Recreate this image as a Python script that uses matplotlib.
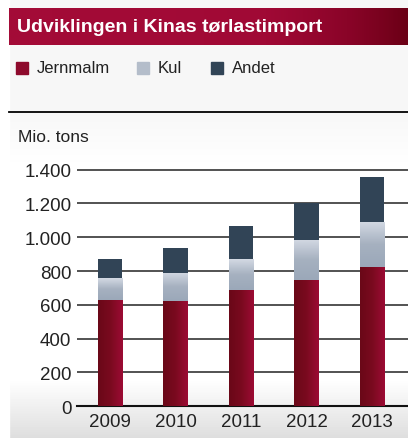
import numpy as np
import matplotlib.pyplot as plt
from matplotlib.colors import LinearSegmentedColormap
from matplotlib.patches import Rectangle

years = ["2009", "2010", "2011", "2012", "2013"]
jernmalm = [629, 623, 688, 747, 824]
kul = [130, 166, 183, 237, 267]
andet = [112, 148, 196, 217, 266]
yticks = [0, 200, 400, 600, 800, 1000, 1200, 1400]
ylabels = ["0", "200", "400", "600", "800", "1.000", "1.200", "1.400"]

W, H = 408, 439
plt.rcParams['font.family'] = ['Liberation Sans', 'DejaVu Sans']
fig = plt.figure(figsize=(W / 100, H / 100), dpi=100)

# panel background (light grey at top, white middle, grey toward bottom)
bg = fig.add_axes([0, 0, 1, 1], zorder=-10)
bg.axis("off")
grad = np.concatenate([np.full(110, 0.965), np.linspace(0.965, 1.0, 60),
                       np.full(210, 1.0), np.linspace(1.0, 0.87, 59)])
bg.imshow(grad[:, None], cmap="gray", vmin=0, vmax=1, aspect="auto",
          extent=[0, 1, 0, 1])
bg.add_patch(Rectangle((0, 0), 9 / W, 1, color="white", transform=bg.transAxes))
bg.set_xlim(0, 1)
bg.set_ylim(0, 1)

# title band
tb = fig.add_axes([9 / W, 1 - 46 / H, 1 - 9 / W, 37 / H])
tb.axis("off")
red_cmap = LinearSegmentedColormap.from_list("band", ["#a30b37", "#a00935", "#8a0428", "#6b0016"])
tb.imshow(np.linspace(0, 1, 256)[None, :] ** 2.5, cmap=red_cmap, aspect="auto",
          extent=[0, 1, 0, 1])
tb.set_xlim(0, 1)
tb.set_ylim(0, 1)
fig.text(17 / W, 1 - 28 / H, "Udviklingen i Kinas tørlastimport", color="white",
         fontsize=14, fontweight="bold", va="center", ha="left")

# legend
leg_items = [("Jernmalm", "#8e0a2c", 16), ("Kul", "#b4bdca", 137), ("Andet", "#314456", 211)]
for name, col, x0 in leg_items:
    fig.patches.append(Rectangle((x0 / W, 1 - 75 / H), 12 / W, 12 / H, color=col,
                                 transform=fig.transFigure, figure=fig))
    fig.text((x0 + 21) / W, 1 - 69 / H, name, fontsize=12, color="#222222",
             va="center", ha="left")

# separator line
fig.add_artist(plt.Line2D([9 / W, 1], [1 - 113 / H, 1 - 113 / H], color="black", lw=1.3))
fig.text(18 / W, 1 - 137 / H, "Mio. tons", fontsize=12.5, color="#222222", va="center")

# chart
ax = fig.add_axes([77 / W, 1 - 407.3 / H, 1 - 77 / W, (407.3 - 167.3) / H])
ax.patch.set_alpha(0)
x = np.arange(len(years))
width = 0.374
jm_cmap = LinearSegmentedColormap.from_list("jm", ["#6a0818", "#7a0a1f", "#9c0b34"])
kul_cmap = LinearSegmentedColormap.from_list("kul", ["#9ba8b9", "#a6b1c0", "#d3d9e3"])

b1 = ax.bar(x, jernmalm, width, color="#8e0a2c", zorder=3)
b2 = ax.bar(x, kul, width, bottom=jernmalm, color="#b4bdca", zorder=3)
b3 = ax.bar(x, andet, width, bottom=np.add(jernmalm, kul), color="#314456", zorder=3)

for bar in b1:
    xx, yy = bar.get_x(), bar.get_y()
    im = ax.imshow(np.linspace(0, 1, 64)[None, :], cmap=jm_cmap, aspect="auto",
                   extent=[xx, xx + bar.get_width(), yy, yy + bar.get_height()], zorder=4)
    im.set_clip_path(bar)
for bar in b2:
    xx, yy = bar.get_x(), bar.get_y()
    im = ax.imshow(np.linspace(1, 0, 64)[:, None], cmap=kul_cmap, aspect="auto",
                   extent=[xx, xx + bar.get_width(), yy, yy + bar.get_height()], zorder=4)
    im.set_clip_path(bar)

ax.set_xlim(-0.504, 4.55)
ax.set_ylim(0, 1420)
ax.set_yticks(yticks)
ax.set_yticklabels(ylabels)
ax.set_xticks(x)
ax.set_xticklabels(years)
ax.yaxis.grid(True, color="#444444", lw=1.3, zorder=1)
ax.tick_params(length=0, labelsize=13.5, colors="#222222", pad=4)
ax.tick_params(axis="x", pad=5)
for s in ["top", "right", "left"]:
    ax.spines[s].set_visible(False)
ax.spines["bottom"].set_color("#111111")
ax.spines["bottom"].set_linewidth(1.5)

fig.savefig("out.png", dpi=100)
